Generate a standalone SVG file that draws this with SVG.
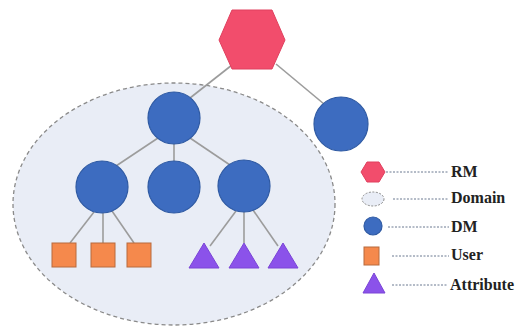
<svg xmlns="http://www.w3.org/2000/svg" width="515" height="327" viewBox="0 0 515 327">
<style>
.dm{fill:#3d6cc0;stroke:#2f5aa3;stroke-width:1.2}
.rm{fill:#f24d6c;stroke:#e0405e;stroke-width:1}
.user{fill:#f5894c;stroke:#b86a3c;stroke-width:1}
.attr{fill:#8b52ea;stroke:#7a45d6;stroke-width:1}
.dom{fill:#e9edf6;stroke:#8a8a8a;stroke-width:1.3;stroke-dasharray:4 3}
.edge{stroke:#9c9c9c;stroke-width:1.6;fill:none}
.lk{stroke:#6a7890;stroke-width:1;stroke-dasharray:2 1.5;fill:none}
.lbl{font-family:"Liberation Serif",serif;font-weight:bold;font-size:16px;fill:#222}
</style>
<rect width="515" height="327" fill="#ffffff"/>
<g id="domain"><ellipse class="dom" cx="174" cy="204" rx="161" ry="121"/></g>
<g id="connectors">
<line class="edge" x1="232" y1="65" x2="190" y2="98"/>
<line class="edge" x1="276" y1="64" x2="324" y2="104"/>
<line class="edge" x1="158" y1="138" x2="116" y2="166"/>
<line class="edge" x1="174" y1="144" x2="174" y2="161"/>
<line class="edge" x1="190" y1="138" x2="230" y2="165"/>
<line class="edge" x1="94" y1="212" x2="70" y2="243"/>
<line class="edge" x1="103" y1="213" x2="103" y2="243"/>
<line class="edge" x1="112" y1="211" x2="134" y2="243"/>
<line class="edge" x1="236" y1="211" x2="210" y2="246"/>
<line class="edge" x1="244" y1="212" x2="244" y2="243"/>
<line class="edge" x1="253" y1="210" x2="278" y2="246"/>
</g>
<g id="rm"><polygon class="rm" points="232,10 272,10 285,40 272,69 232,69 219,40"/></g>
<g id="dm-top"><circle class="dm" cx="174" cy="118" r="26"/></g>
<g id="dm-right"><circle class="dm" cx="341" cy="124" r="27"/></g>
<g id="dm-left"><circle class="dm" cx="102" cy="187" r="26"/></g>
<g id="dm-mid"><circle class="dm" cx="174" cy="187" r="26"/></g>
<g id="dm-r2"><circle class="dm" cx="244" cy="186" r="26"/></g>
<g id="user1"><rect class="user" x="52" y="243" width="24" height="24"/></g>
<g id="user2"><rect class="user" x="91" y="243" width="24" height="24"/></g>
<g id="user3"><rect class="user" x="127" y="243" width="24" height="24"/></g>
<g id="attr1"><polygon class="attr" points="204,243 219,268 189,268"/></g>
<g id="attr2"><polygon class="attr" points="244,243 259,268 229,268"/></g>
<g id="attr3"><polygon class="attr" points="283,243 298,268 268,268"/></g>
<g id="legend">
<polygon class="rm" points="367,162 379,162 385,172 379,182 367,182 361,172"/>
<line class="lk" x1="386" y1="172" x2="448" y2="172"/>
<text class="lbl" x="451" y="177">RM</text>
<ellipse class="dom" cx="373" cy="199" rx="11" ry="7" style="stroke-dasharray:2 1.5;stroke-width:1"/>
<line class="lk" x1="393" y1="199" x2="449" y2="199"/>
<text class="lbl" x="451" y="203">Domain</text>
<circle class="dm" cx="373" cy="226" r="9"/>
<line class="lk" x1="388" y1="227" x2="449" y2="227"/>
<text class="lbl" x="451" y="232">DM</text>
<rect class="user" x="364" y="247" width="15" height="18"/>
<line class="lk" x1="392" y1="256" x2="449" y2="256"/>
<text class="lbl" x="451" y="260">User</text>
<polygon class="attr" points="374,273 385,293 363,293"/>
<line class="lk" x1="392" y1="285" x2="448" y2="285"/>
<text class="lbl" x="450" y="290">Attribute</text>
</g>
</svg>
